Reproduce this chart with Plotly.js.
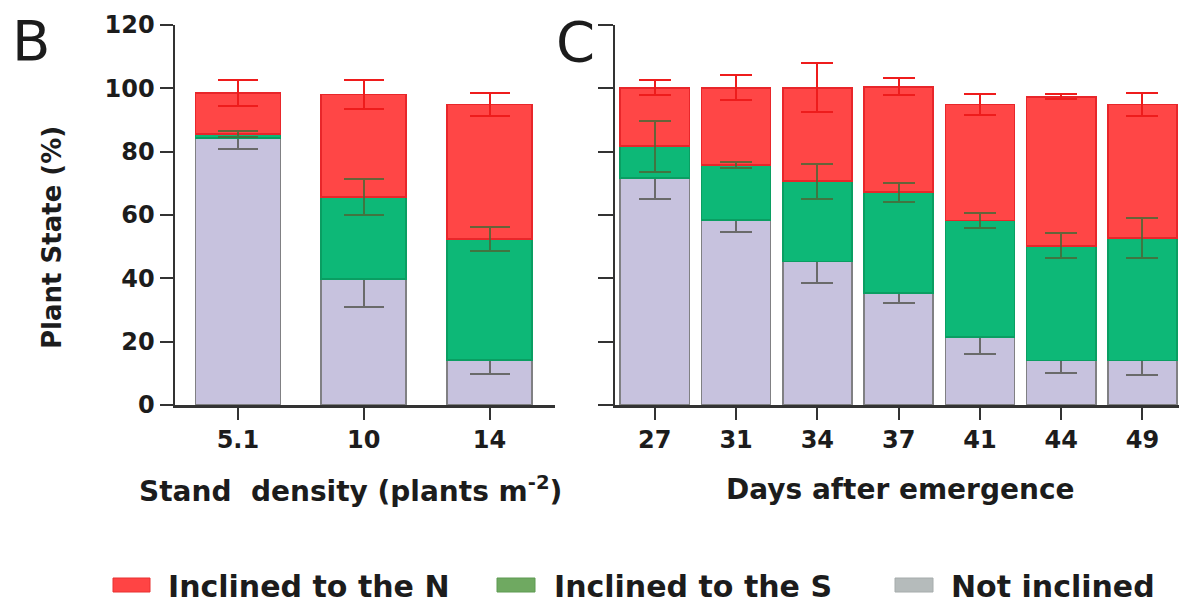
<!DOCTYPE html>
<html>
<head>
<meta charset="utf-8">
<script src="https://cdn.plot.ly/plotly-3.0.1.min.js"></script>
<style>
  html, body { margin: 0; padding: 0; background: #ffffff; }
  #chart { width: 1179px; height: 607px; }
</style>
</head>
<body>
<div id="chart"></div>
<script>
// ---------- data ----------
const densCats = ['5.1', '10', '14'];
const densNot = [84.3, 39.8, 14.2];
const densNotErr = [3.3, 9.0, 4.3];
const densS = [1.2, 25.9, 38.3];
const densSErr = [1.0, 5.7, 3.8];
const densN = [13.0, 32.4, 42.4];
const densNErr = [4.1, 4.6, 3.6];

const dayCats = ['27', '31', '34', '37', '41', '44', '49'];
const dayNot = [71.7, 58.5, 45.3, 35.3, 21.4, 14.0, 14.0];
const dayNotErr = [6.6, 3.9, 6.8, 3.0, 5.2, 4.0, 4.5];
const dayS = [10.0, 17.2, 25.4, 31.9, 36.9, 36.3, 38.7];
const daySErr = [8.0, 1.0, 5.5, 3.0, 2.3, 3.9, 6.4];
const dayN = [18.5, 24.5, 29.5, 33.3, 36.6, 47.0, 42.2];
const dayNErr = [2.3, 3.9, 7.7, 2.7, 3.4, 0.8, 3.7];

const seriesNames = ['Inclined to the N', 'Inclined to the S', 'Not inclined'];
const yTicks = [0, 20, 40, 60, 80, 100, 120];

// ---------- styles ----------
const W = 1179, H = 607;
const M = {l: 175, r: 0, t: 25, b: 202};
const PW = W - M.l - M.r, PH = H - M.t - M.b;
const px = x => (x - M.l) / PW;
const py = y => (H - M.b - y) / PH;

const FONT = 'DejaVu Sans, Arial, sans-serif';
const TXT = '#1c1c1c';
const AX = '#333333';

const fill = {N: '#ff4646', S: '#0db877', G: '#c7c2de'};
const edge = {N: '#e8262a', S: '#0a9e62', G: '#808083'};
const errc = {N: '#ee1c1c', S: 'rgba(75,105,55,0.85)', G: '#6a6a6a'};
const legendFill = ['#ff4444', '#6fa961', '#b5bbbb'];
const legendEdge = ['#e83030', '#5f9a52', '#a6acac'];

function barTrace(cats, vals, errs, key, xa, ya, w, ew, visibleFill, showErr) {
  return {
    type: 'bar', x: cats, y: vals, xaxis: xa, yaxis: ya, width: w,
    marker: visibleFill
      ? {color: fill[key], line: {color: edge[key], width: 1.6}}
      : {color: 'rgba(0,0,0,0)', line: {width: 0}},
    error_y: showErr
      ? {type: 'data', array: errs, visible: true, color: errc[key], thickness: 2, width: ew}
      : {visible: false},
    showlegend: false, hoverinfo: 'skip'
  };
}

const LW = 0.675, RW = 0.85;
const data = [
  // visible bars (gray error bars sit under the next segment)
  barTrace(densCats, densNot, densNotErr, 'G', 'x', 'y', LW, 20, true, true),
  barTrace(densCats, densS, densSErr, 'S', 'x', 'y', LW, 20, true, false),
  barTrace(densCats, densN, densNErr, 'N', 'x', 'y', LW, 20, true, false),
  barTrace(dayCats, dayNot, dayNotErr, 'G', 'x2', 'y2', RW, 16, true, true),
  barTrace(dayCats, dayS, daySErr, 'S', 'x2', 'y2', RW, 16, true, false),
  barTrace(dayCats, dayN, dayNErr, 'N', 'x2', 'y2', RW, 16, true, false),
  // transparent overlay stacks carrying the S and N error bars on top
  barTrace(densCats, densNot, densNotErr, 'G', 'x3', 'y3', LW, 20, false, false),
  barTrace(densCats, densS, densSErr, 'S', 'x3', 'y3', LW, 20, false, true),
  barTrace(densCats, densN, densNErr, 'N', 'x3', 'y3', LW, 20, false, true),
  barTrace(dayCats, dayNot, dayNotErr, 'G', 'x4', 'y4', RW, 16, false, false),
  barTrace(dayCats, dayS, daySErr, 'S', 'x4', 'y4', RW, 16, false, true),
  barTrace(dayCats, dayN, dayNErr, 'N', 'x4', 'y4', RW, 16, false, true)
];

const leftRange = [-0.5, 2.52];
const rightRange = [-0.49, 6.45];
const dom1 = [0, px(555)];
const dom2 = [px(615), 1];

function xAxis(domain, cats, range, anchor) {
  return {
    domain: domain, anchor: anchor, type: 'category', categoryorder: 'array', categoryarray: cats,
    range: range, fixedrange: true,
    showline: true, linecolor: AX, linewidth: 2.5, mirror: false,
    ticks: 'outside', ticklen: 12, tickwidth: 2, tickcolor: AX,
    showgrid: false, zeroline: false,
    tickfont: {family: FONT, size: 24, color: TXT, weight: 'bold'}
  };
}
function yAxis(anchor, labels, ticklen) {
  return {
    anchor: anchor, domain: [0, 1], range: [0, 120], fixedrange: true,
    tickmode: 'array', tickvals: yTicks, ticktext: yTicks.map(String),
    showticklabels: labels,
    showline: true, linecolor: AX, linewidth: 2.5,
    ticks: 'outside', ticklen: ticklen, tickwidth: 2, tickcolor: AX,
    showgrid: false, zeroline: false,
    tickfont: {family: FONT, size: 24, color: TXT, weight: 'bold'}
  };
}
function hiddenX(over, cats, range, anchor) {
  return {overlaying: over, anchor: anchor, type: 'category', categoryorder: 'array',
          categoryarray: cats, range: range, visible: false, fixedrange: true};
}
function hiddenY(over, anchor) {
  return {overlaying: over, anchor: anchor, range: [0, 120], visible: false, fixedrange: true};
}

const annotations = [
  {text: 'B', x: px(31), y: py(40), xref: 'paper', yref: 'paper', xanchor: 'center', yanchor: 'middle',
   showarrow: false, font: {family: FONT, size: 56, color: TXT}},
  {text: 'C', x: px(575), y: py(41), xref: 'paper', yref: 'paper', xanchor: 'center', yanchor: 'middle',
   showarrow: false, font: {family: FONT, size: 56, color: TXT}},
  {text: 'Plant State (%)', x: px(52), y: py(238), xref: 'paper', yref: 'paper', textangle: -90,
   xanchor: 'center', yanchor: 'middle', showarrow: false,
   font: {family: FONT, size: 26, color: TXT, weight: 'bold'}},
  {text: 'Stand  density (plants m<sup>-2</sup>)', x: px(350), y: py(490), xref: 'paper', yref: 'paper',
   xanchor: 'center', yanchor: 'middle', showarrow: false,
   font: {family: FONT, size: 28, color: TXT, weight: 'bold'}},
  {text: 'Days after emergence', x: px(900), y: py(490), xref: 'paper', yref: 'paper',
   xanchor: 'center', yanchor: 'middle', showarrow: false,
   font: {family: FONT, size: 28, color: TXT, weight: 'bold'}}
];

// manual legend (swatch colours differ from the bar fills in the reference)
const legendX = [[113, 150, 166], [497, 535, 552], [895, 933, 949]];
const shapes = [];
seriesNames.forEach((name, i) => {
  const [x0, x1, tx] = legendX[i];
  shapes.push({type: 'rect', xref: 'paper', yref: 'paper',
    x0: px(x0), x1: px(x1), y0: py(592), y1: py(578),
    fillcolor: legendFill[i], line: {color: legendEdge[i], width: 1}});
  annotations.push({text: name, x: px(tx), y: py(586), xref: 'paper', yref: 'paper',
    xanchor: 'left', yanchor: 'middle', showarrow: false,
    font: {family: FONT, size: 30, color: TXT, weight: 'bold'}});
});

const layout = {
  width: W, height: H, margin: M,
  paper_bgcolor: '#ffffff', plot_bgcolor: '#ffffff',
  barmode: 'stack', showlegend: false,
  xaxis: xAxis(dom1, densCats, leftRange, 'y'),
  yaxis: yAxis('x', true, 13),
  xaxis2: xAxis(dom2, dayCats, rightRange, 'y2'),
  yaxis2: yAxis('x2', false, 15),
  xaxis3: hiddenX('x', densCats, leftRange, 'y3'),
  yaxis3: hiddenY('y', 'x3'),
  xaxis4: hiddenX('x2', dayCats, rightRange, 'y4'),
  yaxis4: hiddenY('y2', 'x4'),
  annotations: annotations,
  shapes: shapes
};

Plotly.newPlot('chart', data, layout, {staticPlot: true, displayModeBar: false});
</script>
</body>
</html>
